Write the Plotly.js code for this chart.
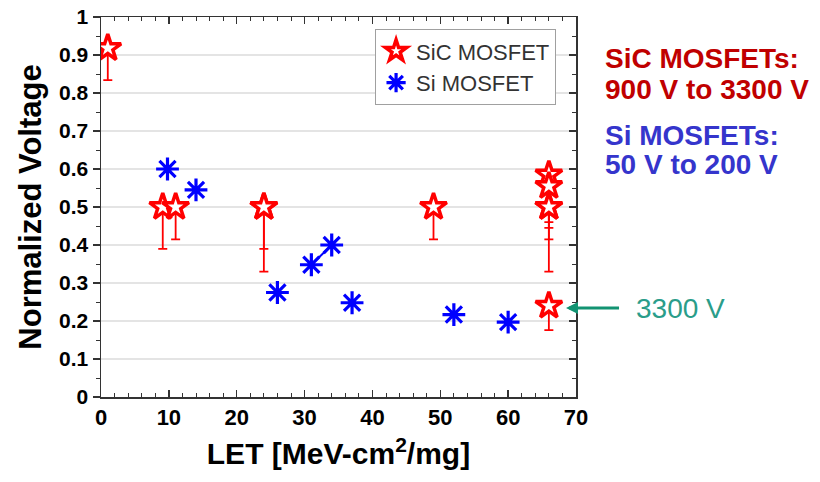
<!DOCTYPE html>
<html>
<head>
<meta charset="utf-8">
<script src="https://cdn.plot.ly/plotly-3.0.1.min.js"></script>
<style>html,body{margin:0;padding:0;background:#fff;}#chart{width:820px;height:482px;}</style>
</head>
<body>
<div id="chart"></div>
<script>
// SiC MOSFET data (LET, normalized voltage, lower error)
const sicX = [1, 9.1, 11, 24, 24, 49, 66, 66, 66, 66, 66];
const sicY = [0.918, 0.5, 0.5, 0.5, 0.5, 0.5, 0.585, 0.555, 0.5, 0.5, 0.24];
const sicErrMinus = [0.084, 0.11, 0.085, 0.11, 0.17, 0.085, 0.125, 0.11, 0.085, 0.17, 0.064];

// Si MOSFET data
const siX = [9.8, 14, 26, 31, 34, 37, 52, 60];
const siY = [0.6, 0.545, 0.275, 0.348, 0.40, 0.248, 0.217, 0.197];

const xTicks = [0, 10, 20, 30, 40, 50, 60, 70];
const yTicks = [0, 0.1, 0.2, 0.3, 0.4, 0.5, 0.6, 0.7, 0.8, 0.9, 1];
const yTickText = ['0', '0.1', '0.2', '0.3', '0.4', '0.5', '0.6', '0.7', '0.8', '0.9', '1'];

const FONT = 'Liberation Sans, Arial, sans-serif';

const traces = [
  {
    x: siX.slice(3, 5), y: siY.slice(3, 5), mode: 'lines', type: 'scatter',
    line: {color: '#0000ff', width: 2}, showlegend: false, hoverinfo: 'skip'
  },
  {
    name: 'SiC MOSFET', x: sicX, y: sicY, type: 'scatter', mode: 'markers',
    marker: {symbol: 'star', size: 20, color: '#ffffff', line: {color: '#ff0000', width: 3.5}},
    error_y: {type: 'data', symmetric: false, array: sicY.map(() => 0), arrayminus: sicErrMinus,
      color: '#ff0000', thickness: 1.8, width: 4.5}
  },
  {
    name: 'Si MOSFET', x: siX, y: siY, type: 'scatter', mode: 'markers',
    marker: {symbol: 'asterisk-open', size: 19, color: '#0000ff', line: {color: '#0000ff', width: 3.2}}
  },
  {
    x: [], y: [], yaxis: 'y2', type: 'scatter', mode: 'markers', showlegend: false, hoverinfo: 'skip'
  }
];

const layout = {
  width: 820, height: 482,
  margin: {l: 101, r: 244, t: 17, b: 85},
  paper_bgcolor: '#ffffff', plot_bgcolor: '#ffffff',
  font: {family: FONT, color: '#000'},
  showlegend: true,
  legend: {
    x: 0.577, y: 0.968, xanchor: 'left', yanchor: 'top',
    bgcolor: '#ffffff', bordercolor: '#a0a0a0', borderwidth: 1,
    font: {family: FONT, size: 22, color: '#333333'},
    tracegroupgap: 0
  },
  xaxis: {
    range: [0, 70], tickvals: xTicks, ticktext: xTicks.map(String),
    showline: true, linecolor: '#333', linewidth: 1.5, mirror: 'ticks',
    ticks: 'inside', ticklen: 7, tickwidth: 1.5, tickcolor: '#333',
    minor: {dtick: 2, ticks: 'inside', ticklen: 4, tickwidth: 1, tickcolor: '#333', showgrid: false},
    showgrid: false, zeroline: false,
    tickfont: {family: FONT, size: 22, color: '#000', weight: 'bold'},
    title: {text: 'LET [MeV-cm<sup>2</sup>/mg]', standoff: 14,
      font: {family: FONT, size: 30, color: '#000', weight: 'bold'}}
  },
  yaxis: {
    range: [0, 1], tickvals: yTicks, ticktext: yTickText,
    showline: true, linecolor: '#333', linewidth: 1.5,
    ticks: 'outside', ticklen: 7, tickwidth: 1.5, tickcolor: '#333',
    minor: {dtick: 0.05, ticks: 'outside', ticklen: 4, tickwidth: 1, tickcolor: '#333', showgrid: false},
    showgrid: true, gridcolor: '#e4e4e4', gridwidth: 1.5, zeroline: false,
    tickfont: {family: FONT, size: 21, color: '#000', weight: 'bold'},
    title: {text: 'Normalized Voltage', standoff: 8,
      font: {family: FONT, size: 31, color: '#000', weight: 'bold'}}
  },
  yaxis2: {
    overlaying: 'y', side: 'right', matches: 'y', range: [0, 1], tickvals: yTicks,
    showline: true, linecolor: '#333', linewidth: 1.5,
    ticks: 'inside', ticklen: 7, tickwidth: 1.5, tickcolor: '#333',
    minor: {dtick: 0.05, ticks: 'inside', ticklen: 4, tickwidth: 1, tickcolor: '#333'},
    showticklabels: false, showgrid: false, zeroline: false
  },
  annotations: [
    {xref: 'paper', yref: 'paper', x: 1.057, y: 0.892, xanchor: 'left', yanchor: 'middle', showarrow: false,
      text: 'SiC MOSFETs:', font: {family: FONT, size: 28, color: '#c00000', weight: 'bold'}},
    {xref: 'paper', yref: 'paper', x: 1.057, y: 0.808, xanchor: 'left', yanchor: 'middle', showarrow: false,
      text: '900 V to 3300 V', font: {family: FONT, size: 28, color: '#c00000', weight: 'bold'}},
    {xref: 'paper', yref: 'paper', x: 1.057, y: 0.689, xanchor: 'left', yanchor: 'middle', showarrow: false,
      text: 'Si MOSFETs:', font: {family: FONT, size: 28, color: '#3535cc', weight: 'bold'}},
    {xref: 'paper', yref: 'paper', x: 1.057, y: 0.611, xanchor: 'left', yanchor: 'middle', showarrow: false,
      text: '50 V to 200 V', font: {family: FONT, size: 28, color: '#3535cc', weight: 'bold'}},
    {xref: 'paper', yref: 'paper', x: 1.122, y: 0.234, xanchor: 'left', yanchor: 'middle', showarrow: false,
      text: '3300 V', font: {family: FONT, size: 28, color: '#2a9d8a'}},
    {xref: 'paper', yref: 'paper', x: 0.979, y: 0.234, text: ' ', showarrow: true,
      ax: 56, ay: 0, arrowcolor: '#129372', arrowwidth: 3, arrowhead: 2, arrowsize: 0.8}
  ]
};

Plotly.newPlot('chart', traces, layout, {displayModeBar: false, staticPlot: true});
</script>
</body>
</html>
